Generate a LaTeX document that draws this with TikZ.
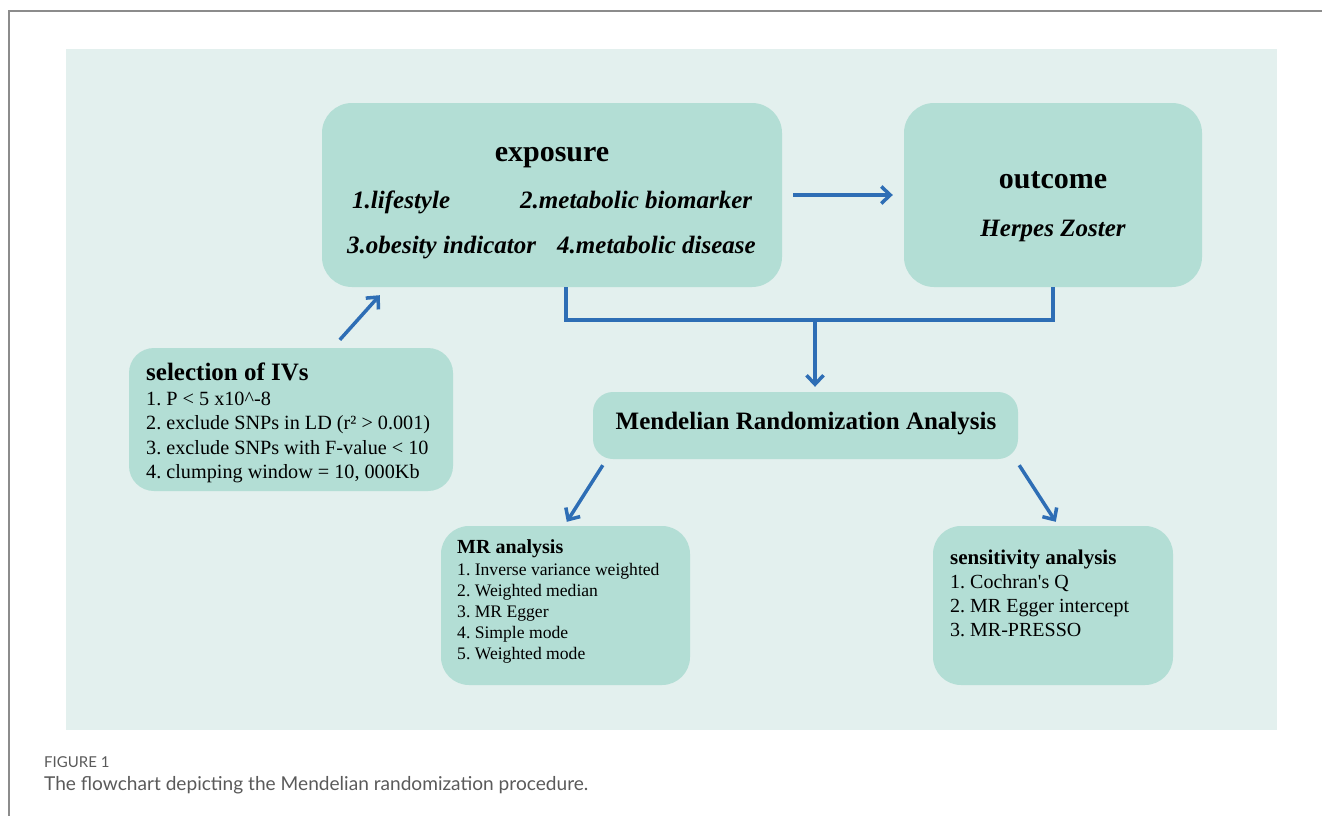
\documentclass[tikz,border=0pt]{standalone}
\usepackage{fontspec}
\setmainfont{Liberation Serif}
\newfontfamily\capfont{Lato}
\usetikzlibrary{arrows.meta,calc}
\definecolor{panel}{HTML}{E3F0EE}
\definecolor{boxfill}{HTML}{B3DED5}
\definecolor{arrowblue}{HTML}{2E6EB5}
\definecolor{framegray}{HTML}{8C8C8C}
\definecolor{capgray}{HTML}{5A5A5A}
\frenchspacing
\begin{document}
\begin{tikzpicture}[x=1pt,y=-1pt,
  box/.style={fill=boxfill, draw=none, rounded corners=#1, inner sep=0pt},
  box/.default=28pt,
  lbl/.style={anchor=base west, inner sep=0pt, text=black},
  clbl/.style={anchor=base, inner sep=0pt, text=black},
  bigtitle/.style={font=\fontsize{30}{36}\selectfont\bfseries},
  itbold/.style={font=\fontsize{25}{30}\selectfont\bfseries\itshape},
  midtitle/.style={font=\fontsize{25}{30}\selectfont\bfseries},
  selitem/.style={font=\fontsize{20.2}{24}\selectfont},
  mrtitle/.style={font=\fontsize{20}{24}\selectfont\bfseries},
  mritem/.style={font=\fontsize{17.6}{21}\selectfont},
  sentitle/.style={font=\fontsize{21}{25}\selectfont\bfseries},
  senitem/.style={font=\fontsize{20}{24}\selectfont},
  arr/.style={draw=arrowblue, line width=3.5pt, -{Straight Barb[length=9pt,width=17pt,line width=3.5pt]}},
  conn/.style={draw=arrowblue, line width=3.5pt, line join=miter},
  framel/.style={draw=framegray, line width=1.5pt}
]
\useasboundingbox (0,0) rectangle (1322,816);
% frame and panel
\draw[framel] (9,816) -- (9,11) -- (1322,11);
\fill[panel] (66,49) rectangle (1277,730);

% boxes
\node[box=30pt, minimum width=460pt, minimum height=184pt] (exposure) at (552,195) {};
\node[box=30pt, minimum width=298pt, minimum height=184pt] (outcome) at (1053,195) {};
\node[box=25pt, minimum width=324pt, minimum height=143pt] (selection) at (291,419.5) {};
\node[box=20pt, minimum width=425pt, minimum height=67pt] (MRA) at (805.5,425.5) {};
\node[box=28pt, minimum width=249pt, minimum height=159pt] (MR) at (565.5,605.5) {};
\node[box=28pt, minimum width=240pt, minimum height=159pt] (sens) at (1053,605.5) {};

% exposure text
\node[clbl, bigtitle] (exptitle) at (552,161) {exposure};
\node[lbl, itbold] (exp1) at (352,208) {1.lifestyle};
\node[lbl, itbold] (exp2) at (520,208) {2.metabolic biomarker};
\node[lbl, itbold] (exp3) at (347,253) {3.obesity indicator};
\node[lbl, itbold] (exp4) at (557,253) {4.metabolic disease};

% outcome text
\node[clbl, bigtitle] (outtitle) at (1053,188) {outcome};
\node[clbl, itbold] (out1) at (1053,236) {Herpes Zoster};

% selection text
\node[lbl, midtitle] (seltitle) at (146,380) {selection of IVs};
\node[lbl, selitem] (sel1) at (146,405) {1. P < 5 x10\textasciicircum-8};
\node[lbl, selitem] (sel2) at (146,429.5) {2. exclude SNPs in LD (r² > 0.001)};
\node[lbl, selitem] (sel3) at (146,454) {3. exclude SNPs with F-value < 10};
\node[lbl, selitem] (sel4) at (146,478.5) {4. clumping window = 10, 000Kb};

% MRA text
\node[clbl, midtitle] (mratitle) at (806,429) {Mendelian Randomization Analysis};

% MR analysis text
\node[lbl, mrtitle] (mrtitle) at (457,553) {MR analysis};
\node[lbl, mritem] (mr1) at (457,575) {1. Inverse variance weighted};
\node[lbl, mritem] (mr2) at (457,596) {2. Weighted median};
\node[lbl, mritem] (mr3) at (457,617) {3. MR Egger};
\node[lbl, mritem] (mr4) at (457,638) {4. Simple mode};
\node[lbl, mritem] (mr5) at (457,659) {5. Weighted mode};

% sensitivity text
\node[lbl, sentitle] (sentitle) at (950,564) {sensitivity analysis};
\node[lbl, senitem] (sen1) at (950,588) {1. Cochran\textquotesingle s Q};
\node[lbl, senitem] (sen2) at (950,612) {2. MR Egger intercept};
\node[lbl, senitem] (sen3) at (950,636) {3. MR-PRESSO};

% connectors
\draw[arr] ([xshift=11pt]exposure.east) -- ([xshift=-11pt]outcome.west);
\draw[arr] ($(selection.north west)+(211,-8)$) -- ($(exposure.south west)+(58,8)$);
\draw[conn] ($(exposure.south west)+(244,0)$) -- ++(0,33) -| (outcome.south);
\coordinate (junction) at (815,320);
\draw[arr] (junction) -- ($(junction |- MRA.north)+(0,-5)$);
\draw[arr] ($(MRA.south west)+(10,6)$) -- ($(MR.north west)+(126,-4)$);
\draw[arr] ($(MRA.south east)+(1,6)$) -- ($(sens.north west)+(123,-4)$);

% caption
\node[lbl, text=capgray, font=\capfont\fontsize{15}{18}\selectfont] (figlabel) at (44,767) {FIGURE 1};
\node[lbl, text=capgray, font=\capfont\fontsize{19.1}{23}\selectfont] (caption) at (44,790) {The flowchart depicting the Mendelian randomization procedure.};
\end{tikzpicture}
\end{document}
